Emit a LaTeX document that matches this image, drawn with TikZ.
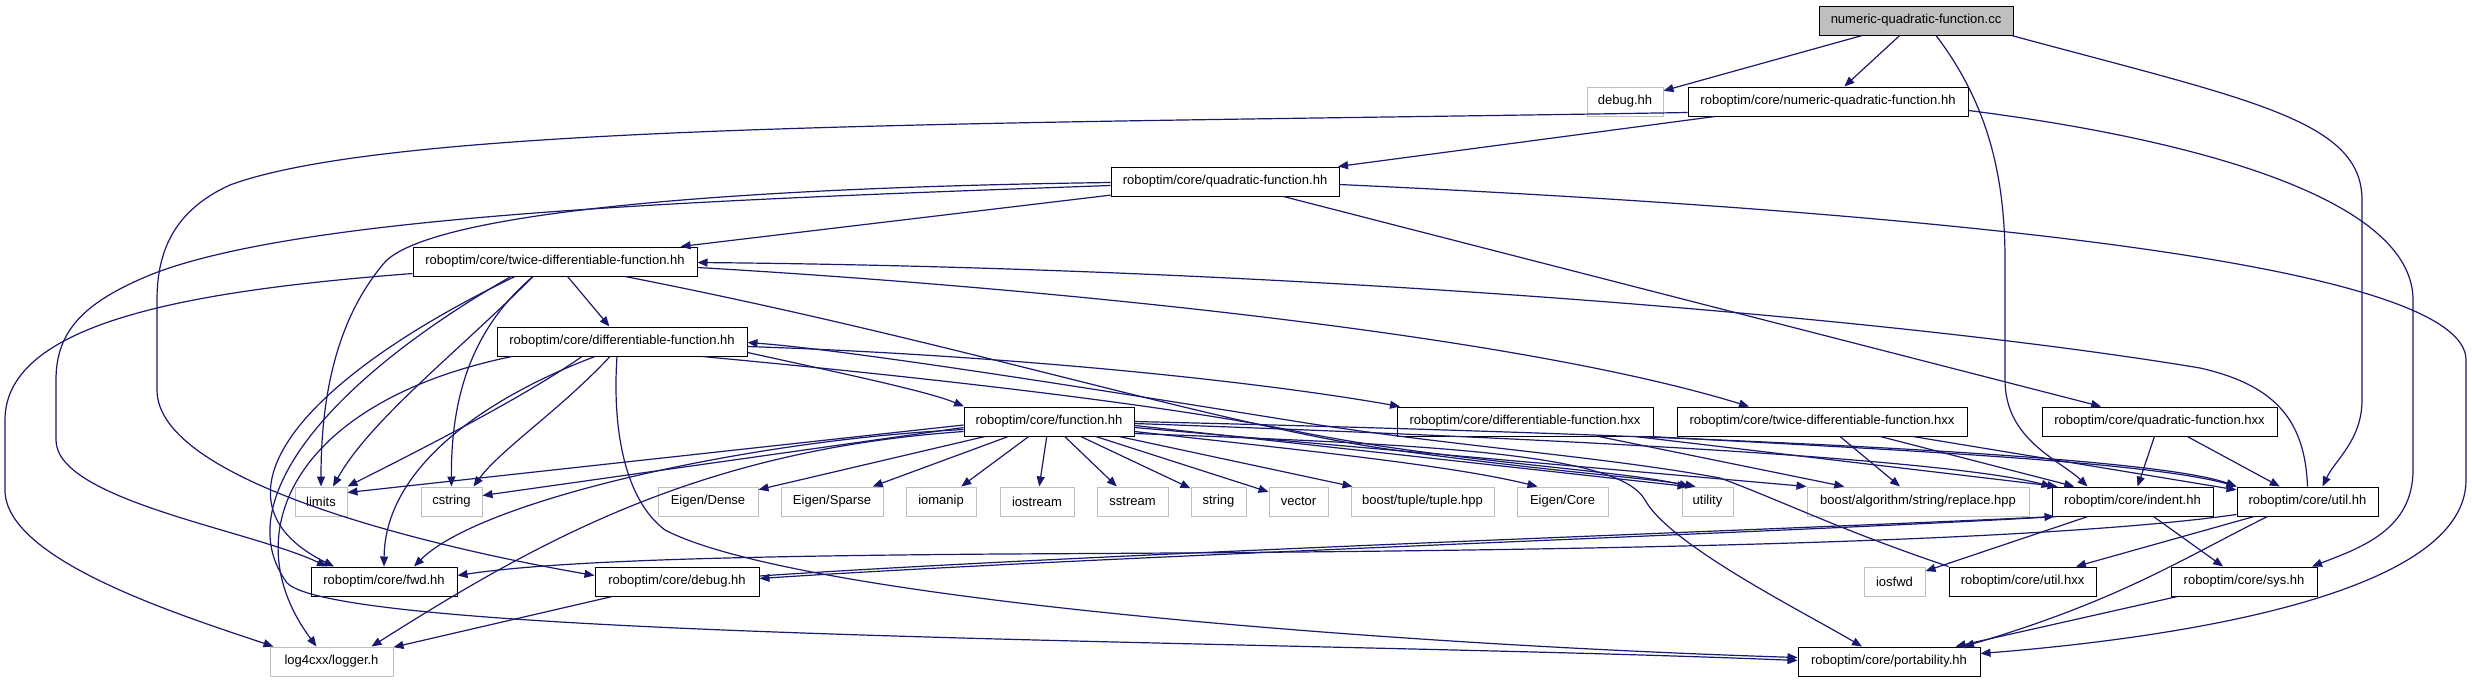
\documentclass[tikz,border=0pt]{standalone}
\usepackage{fontspec}
\setmainfont{Liberation Sans}
\usetikzlibrary{arrows.meta}
\definecolor{edgeblue}{RGB}{25,25,112}
\definecolor{extgray}{RGB}{191,191,191}
\tikzset{
  hdr/.style={
    rectangle, draw=black, line width=1pt, fill=white,
    minimum height=29pt, inner sep=0pt,
    font=\fontsize{13}{15}\selectfont
  },
  sysinc/.style={hdr, draw=extgray},
  srcfile/.style={hdr, fill=extgray},
  incl/.style={-{Triangle[length=10pt,width=8pt]}, line width=1.2pt, draw=edgeblue}
}

\begin{document}
\begin{tikzpicture}[x=1pt,y=-1pt]
  \useasboundingbox[fill=white] (0,0) rectangle (2472,683);

  % source file and its direct headers
  \node[srcfile, minimum width=194pt] (cc) at (1916,20.5) {numeric-quadratic-function.cc};
  \node[sysinc, minimum width=76pt] (dbg) at (1625,101.5) {debug.hh};
  \node[hdr, minimum width=280pt] (nqfh) at (1828,101.5) {roboptim/core/numeric-quadratic-function.hh};
  \node[hdr, minimum width=228pt] (qfh) at (1225,181.5) {roboptim/core/quadratic-function.hh};
  \node[hdr, minimum width=284pt] (tdfh) at (555,261.5) {roboptim/core/twice-differentiable-function.hh};
  \node[hdr, minimum width=250pt] (dfh) at (622,341.5) {roboptim/core/differentiable-function.hh};

  % function and the .hxx files
  \node[hdr, minimum width=170pt] (fh) at (1049,421.5) {roboptim/core/function.hh};
  \node[hdr, minimum width=256pt] (dfhxx) at (1525,421.5) {roboptim/core/differentiable-function.hxx};
  \node[hdr, minimum width=290pt] (tdfhxx) at (1822,421.5) {roboptim/core/twice-differentiable-function.hxx};
  \node[hdr, minimum width=235pt] (qfhxx) at (2159.5,421.5) {roboptim/core/quadratic-function.hxx};

  % system headers and small core headers
  \node[sysinc, minimum width=52pt] (limits) at (321,501.5) {limits};
  \node[sysinc, minimum width=61pt] (cstring) at (451.5,501.5) {cstring};
  \node[sysinc, minimum width=100pt] (edense) at (708,501.5) {Eigen/Dense};
  \node[sysinc, minimum width=102pt] (esparse) at (832,501.5) {Eigen/Sparse};
  \node[sysinc, minimum width=70pt] (iomanip) at (941,501.5) {iomanip};
  \node[sysinc, minimum width=74pt] (iostream) at (1037,501.5) {iostream};
  \node[sysinc, minimum width=71pt] (sstream) at (1132.5,501.5) {sstream};
  \node[sysinc, minimum width=55pt] (string) at (1218.5,501.5) {string};
  \node[sysinc, minimum width=59pt] (vector) at (1298.5,501.5) {vector};
  \node[sysinc, minimum width=143pt] (tuple) at (1422.5,501.5) {boost/tuple/tuple.hpp};
  \node[sysinc, minimum width=91pt] (ecore) at (1562.5,501.5) {Eigen/Core};
  \node[sysinc, minimum width=51pt] (utility) at (1707.5,501.5) {utility};
  \node[sysinc, minimum width=222pt] (replace) at (1918,501.5) {boost/algorithm/string/replace.hpp};
  \node[hdr, minimum width=161pt] (indent) at (2132.5,501.5) {roboptim/core/indent.hh};
  \node[hdr, minimum width=141pt] (utilh) at (2307.5,501.5) {roboptim/core/util.hh};

  \node[hdr, minimum width=146pt] (fwd) at (384,581.5) {roboptim/core/fwd.hh};
  \node[hdr, minimum width=164pt] (rcdebug) at (677,581.5) {roboptim/core/debug.hh};
  \node[sysinc, minimum width=61pt] (iosfwd) at (1894.5,581.5) {iosfwd};
  \node[hdr, minimum width=147pt] (utilhxx) at (2022.5,581.5) {roboptim/core/util.hxx};
  \node[hdr, minimum width=146pt] (sys) at (2244,581.5) {roboptim/core/sys.hh};

  \node[sysinc, minimum width=123pt] (logger) at (331.5,661.5) {log4cxx/logger.h};
  \node[hdr, minimum width=182pt] (port) at (1889,661.5) {roboptim/core/portability.hh};

  % numeric-quadratic-function.cc
  \draw[incl] (cc) -- (dbg);
  \draw[incl] (cc) -- (nqfh);
  \draw[incl] ([xshift=20pt]cc.south) .. controls (1985,100) and (2005,170) .. (2005,260)
    -- (2005,380) .. controls (2005,440) and (2060,460) .. ([xshift=-45pt]indent.north);
  \draw[incl] ([xshift=-2pt]cc.south east) .. controls (2250,100) and (2362,120) .. (2362,200)
    -- (2362,400) .. controls (2362,440) and (2335,460) .. ([xshift=15pt]utilh.north);

  % numeric-quadratic-function.hh
  \draw[incl] (nqfh) -- (qfh);
  \draw[incl] ([yshift=-11pt]nqfh.west) .. controls (1000,124) and (400,122) .. (230,185)
    .. controls (175,210) and (157,250) .. (157,300) -- (157,390)
    .. controls (157,480) and (420,545) .. ([yshift=6pt]rcdebug.west);
  \draw[incl] ([yshift=-9pt]nqfh.east) .. controls (2200,140) and (2413,200) .. (2413,300)
    -- (2413,470) .. controls (2413,530) and (2360,548) .. ([xshift=68pt]sys.north);

  % quadratic-function.hh
  \draw[incl] (qfh) -- (tdfh);
  \draw[incl] ([yshift=-1pt]qfh.west) .. controls (700,188) and (430,215) .. (385,262)
    .. controls (335,320) and (321,400) .. (limits);
  \draw[incl] ([yshift=-4pt]qfh.west) .. controls (700,200) and (300,215) .. (150,275)
    .. controls (85,302) and (56,330) .. (56,380) -- (56,440)
    .. controls (56,500) and (250,530) .. ([xshift=-57pt]fwd.north);
  \draw[incl] ([yshift=-3pt]qfh.east) .. controls (2000,215) and (2466,270) .. (2466,360)
    -- (2466,480) .. controls (2466,600) and (2150,640) .. ([yshift=8pt]port.east);
  \draw[incl] (qfh) -- (qfhxx);

  % twice-differentiable-function.hh
  \draw[incl] (tdfh) -- (dfh);
  \draw[incl] ([yshift=-12pt]tdfh.west) .. controls (200,290) and (5,320) .. (5,420)
    -- (5,490) .. controls (5,560) and (180,615) .. ([xshift=-58pt]logger.north);
  \draw[incl] ([xshift=-22pt]tdfh.south) .. controls (460,350) and (370,420) .. ([xshift=12pt]limits.north);
  \draw[incl] ([xshift=-22pt]tdfh.south) .. controls (470,330) and (451,400) .. (cstring);
  \draw[incl] ([xshift=-40pt]tdfh.south) .. controls (300,380) and (200,500) .. ([xshift=-50pt]fwd.north);
  \draw[incl] ([xshift=-44pt]tdfh.south) .. controls (330,380) and (230,500) .. (285,580)
    .. controls (310,640) and (1300,640) .. ([yshift=1pt]port.west);
  \draw[incl] ([xshift=70pt]tdfh.south) .. controls (950,340) and (1200,420) .. (1380,448)
    .. controls (1550,472) and (1650,478) .. ([xshift=-12pt]utility.north);
  \draw[incl] ([yshift=-6pt]tdfh.east) .. controls (1000,285) and (1500,330) .. ([xshift=-73pt]tdfhxx.north);

  % differentiable-function.hh
  \draw[incl] ([yshift=-11pt]dfh.east) .. controls (850,375) and (930,392) .. ([xshift=-85pt]fh.north);
  \draw[incl] ([yshift=-5pt]dfh.east) .. controls (1000,355) and (1250,380) .. ([xshift=-125pt]dfhxx.north);
  \draw[incl] ([xshift=-40pt]dfh.south) .. controls (520,400) and (400,460) .. (limits.north east);
  \draw[incl] ([xshift=-12pt]dfh.south) .. controls (560,410) and (500,450) .. ([xshift=22pt]cstring.north);
  \draw[incl] ([xshift=-27pt]dfh.south) .. controls (480,400) and (385,470) .. (fwd.north);
  \draw[incl] ([xshift=-110pt]dfh.south) .. controls (300,400) and (230,530) .. ([xshift=-15pt]logger.north);
  \draw[incl] ([xshift=-5pt]dfh.south) .. controls (612,430) and (625,500) .. (665,530)
    .. controls (800,600) and (1400,645) .. ([yshift=4pt]port.west);
  \draw[incl] ([xshift=80pt]dfh.south) .. controls (900,375) and (1150,402) .. (1300,432)
    .. controls (1450,462) and (1620,470) .. ([xshift=-18pt]utility.north);

  % function.hh
  \draw[incl] ([yshift=-3.5pt]fh.west) -- ([yshift=9pt]limits.east);
  \draw[incl] ([yshift=-6pt]fh.west) -- ([yshift=6pt]cstring.east);
  \draw[incl] ([yshift=-8pt]fh.west) .. controls (750,440) and (480,500) .. ([xshift=30pt]fwd.north);
  \draw[incl] ([yshift=-10pt]fh.west) .. controls (700,450) and (540,540) .. ([xshift=40pt]logger.north);
  \foreach \hdrname in {edense,esparse,iomanip,iostream,sstream,string,vector,tuple}
    \draw[incl] (fh) -- (\hdrname);
  \draw[incl] ([yshift=-10pt]fh.east) .. controls (1300,450) and (1450,465) .. ([xshift=-25pt]ecore.north);
  \draw[incl] ([yshift=-4pt]fh.east) -- ([xshift=6pt]utility.north west);
  \draw[incl] ([yshift=-6pt]fh.east) -- (replace.north west);
  \draw[incl] ([yshift=-2pt]fh.east) .. controls (1600,440) and (1950,460) .. (indent.north west);
  \draw[incl] (fh.east) .. controls (1700,435) and (2150,455) .. (utilh.north west);
  \draw[incl] ([yshift=-12pt]fh.east) .. controls (1450,445) and (1620,455) .. (1645,500)
    .. controls (1670,545) and (1800,610) .. ([xshift=-27pt]port.north);

  % .hxx files
  \draw[incl] (dfhxx) -- (replace);
  \draw[incl] ([xshift=110pt]dfhxx.south) -- ([xshift=6pt]indent.north west);
  \draw[incl] ([xshift=125pt]dfhxx.south) .. controls (1900,450) and (2150,462) .. (utilh.north west);
  \draw[incl] (tdfhxx) -- (replace);
  \draw[incl] (tdfhxx) -- (indent);
  \draw[incl] (tdfhxx) -- (utilh);
  \draw[incl] (qfhxx) -- (indent);
  \draw[incl] (qfhxx) -- (utilh);

  % indent.hh and debug.hh
  \draw[incl] (indent) -- (iosfwd);
  \draw[incl] (indent) -- (sys);
  \draw[incl] ([xshift=6pt]indent.south west) .. controls (1800,532) and (1100,556) .. ([yshift=3pt]rcdebug.east);
  \draw[incl] ([yshift=5.5pt]rcdebug.east) .. controls (1100,553) and (1800,529) .. ([xshift=3pt]indent.south west);
  \draw[incl] (rcdebug) -- (logger);

  % util.hh, util.hxx and sys.hh
  \draw[incl] ([yshift=-13pt]utilh.west) .. controls (2000,548) and (1400,552) .. (1000,554)
    .. controls (750,556) and (560,560) .. ([yshift=6pt]fwd.east);
  \draw[incl] (utilh) -- (utilhxx);
  \draw[incl] ([xshift=-40pt]utilh.south) .. controls (2180,560) and (2120,600) .. ([xshift=75pt]port.north);
  \draw[incl] (utilh.north) .. controls (2305,420) and (2275,385) .. (2200,368)
    .. controls (1900,318) and (1300,268) .. ([yshift=-1pt]tdfh.east);
  \draw[incl] (utilhxx.north west) .. controls (1840,530) and (1780,500) .. (1720,478)
    .. controls (1600,456) and (1450,446) .. (1300,422)
    .. controls (1100,390) and (850,350) .. ([yshift=-1pt]dfh.east);
  \draw[incl] (sys) -- (port);
\end{tikzpicture}
\end{document}
